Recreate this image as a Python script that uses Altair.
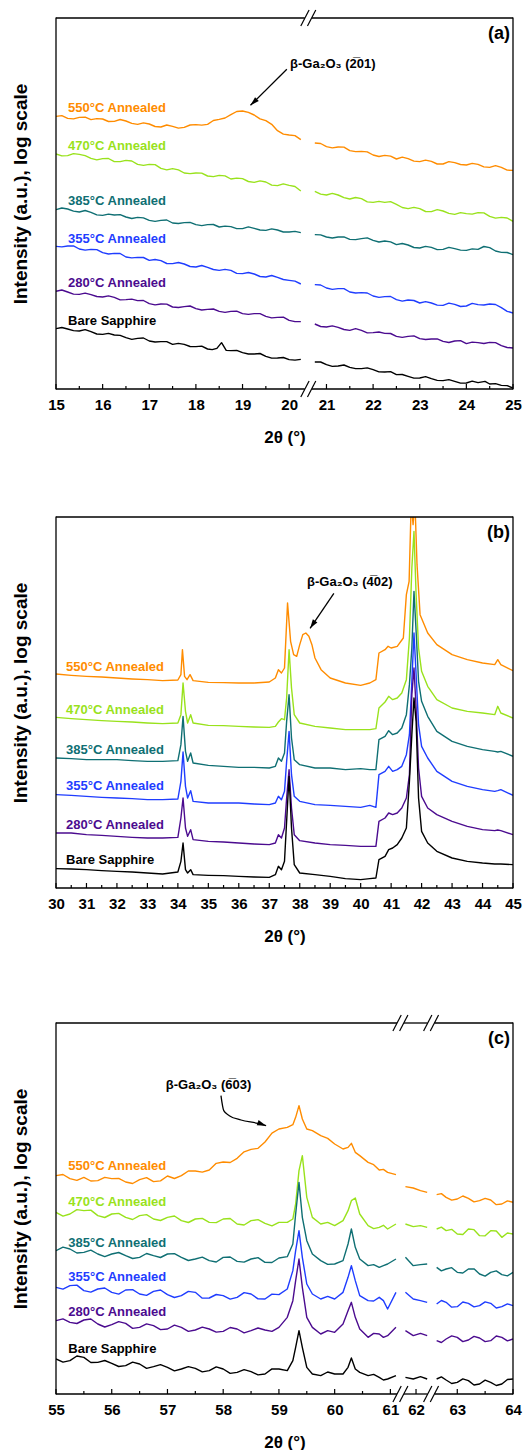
import altair as alt
import pandas as pd

FONT = "Liberation Sans"
W, H = 457, 371
YDOM = [0, 111.3]

SERIES = ["550°C Annealed", "470°C Annealed", "385°C Annealed",
          "355°C Annealed", "280°C Annealed", "Bare Sapphire"]
COLORS = ["#ff8c00", "#99e21c", "#0f6f73", "#1f3dff", "#4b0b8f", "#000000"]

# ---------------- panel (a): 15-25 deg, break near 20.5 ----------------
A_XL = [15.0, 15.25, 15.5, 15.75, 16.0, 16.25, 16.5, 16.75, 17.0, 17.25, 17.5,
        17.75, 18.0, 18.25, 18.5, 18.75, 19.0, 19.25, 19.5, 19.75, 20.0, 20.25]
A_XR = [20.75, 21.0, 21.25, 21.5, 21.75, 22.0, 22.25, 22.5, 22.75, 23.0, 23.25,
        23.5, 23.75, 24.0, 24.25, 24.5, 24.75, 25.0]
A_X = A_XL + A_XR
A_550 = [81.8, 81.2, 81.5, 80.8, 81.0, 80.3, 80.4, 79.4, 79.5, 78.6, 78.8, 78.5, 79.3, 79.4, 80.9, 82.3, 83.4, 82.2, 80.5, 77.5, 76.2, 74.8,
         73.8, 72.7, 72.6, 71.5, 71.3, 70.2, 70.1, 69.0, 69.1, 68.2, 68.3, 67.5, 67.9, 67.2, 67.4, 66.5, 66.5, 65.6]
A_470 = [70.5, 70.0, 70.4, 69.2, 69.1, 68.2, 68.6, 67.4, 67.4, 66.2, 66.1, 64.8, 64.8, 63.9, 64.1, 63.0, 63.1, 62.0, 62.1, 61.0, 61.1, 59.4,
         59.3, 58.2, 58.2, 57.0, 57.1, 56.0, 56.0, 55.4, 54.1, 54.1, 53.2, 53.4, 52.4, 52.6, 52.9, 51.8, 51.5, 50.3]
A_385 = [53.8, 54.0, 53.1, 53.0, 52.1, 52.2, 51.6, 51.5, 50.6, 50.6, 49.8, 49.9, 49.3, 49.3, 48.6, 48.7, 48.1, 48.2, 47.6, 47.7, 47.1, 46.9,
         46.3, 45.6, 45.6, 44.9, 45.1, 44.6, 44.4, 43.3, 43.2, 42.3, 42.5, 41.9, 42.1, 41.6, 41.9, 42.4, 41.0, 40.3]
A_355 = [42.8, 42.9, 42.0, 41.9, 40.9, 40.7, 39.6, 39.5, 38.6, 38.5, 37.6, 37.5, 36.6, 36.5, 35.6, 35.6, 34.6, 34.5, 33.6, 33.5, 32.6, 31.5,
         31.3, 30.3, 30.1, 29.1, 28.9, 27.9, 27.7, 26.8, 26.7, 25.8, 25.8, 25.1, 25.4, 24.9, 25.3, 25.5, 24.4, 22.8]
A_280 = [29.3, 29.1, 28.4, 28.3, 27.6, 27.5, 26.8, 26.5, 25.6, 25.5, 24.6, 24.7, 24.1, 23.9, 23.3, 23.3, 22.6, 22.6, 21.8, 21.5, 20.6, 20.2,
         19.5, 18.6, 18.5, 17.6, 17.6, 16.9, 16.7, 15.8, 15.8, 15.1, 15.0, 14.3, 14.4, 13.6, 13.9, 14.0, 13.0, 12.3]
# in-between readings (noise)
A_XM = [15.125, 15.375, 15.625, 15.875, 16.125, 16.375, 16.625, 16.875, 17.125, 17.375, 17.625,
        17.875, 18.125, 18.375, 18.625, 18.875, 19.125, 19.375, 19.625, 19.875, 20.125,
        20.875, 21.125, 21.375, 21.625, 21.875, 22.125, 22.375, 22.625, 22.875, 23.125, 23.375,
        23.625, 23.875, 24.125, 24.375, 24.625, 24.875]
A_550_M = [82.0, 81.05, 81.55, 81.1, 80.25, 80.85, 79.7, 79.85, 78.75, 79.2, 78.25, 79.2, 79.15, 80.55, 81.3, 83.25, 83.0, 81.05, 79.4, 76.45, 76.0,
           73.65, 72.35, 72.55, 71.2, 71.15, 69.75, 69.85, 69.55, 68.35, 68.65, 67.5, 68.2, 67.35, 67.7, 66.65, 67.0, 65.65]
A_470_M = [69.95, 70.6, 70.0, 68.75, 69.15, 68.2, 68.4, 67.1, 67.3, 65.75, 65.75, 64.6, 64.75, 63.7, 63.95, 63.25, 62.25, 62.45, 61.15, 61.55, 60.75,
           58.45, 58.7, 57.4, 57.45, 56.15, 56.3, 56.2, 54.45, 54.5, 53.25, 53.8, 52.7, 52.9, 52.45, 52.85, 51.25, 51.3]
A_385_M = [54.3, 53.35, 53.55, 52.25, 52.45, 52.3, 51.15, 51.35, 50.3, 50.7, 49.65, 50.0, 49.0, 49.35, 48.85, 48.1, 48.65, 47.7, 48.05, 47.1, 47.3,
           46.25, 45.3, 45.65, 44.8, 45.35, 44.1, 44.15, 43.65, 42.45, 42.8, 41.8, 42.5, 41.65, 42.05, 42.75, 41.4, 40.95]
A_355_M = [42.65, 42.95, 41.65, 41.8, 40.5, 40.65, 39.35, 39.45, 38.85, 37.65, 37.95, 36.75, 37.05, 35.85, 35.9, 34.7, 34.95, 33.75, 34.05, 32.85, 32.35,
           31.2, 29.9, 30.1, 28.8, 28.8, 27.5, 27.75, 26.35, 26.55, 26.2, 25.15, 25.75, 24.75, 25.7, 25.2, 25.35, 23.3]
A_280_M = [29.7, 28.45, 28.75, 27.75, 27.95, 26.75, 26.95, 26.55, 25.25, 25.45, 24.45, 24.9, 23.7, 24.0, 23.0, 23.35, 22.4, 22.6, 21.35, 21.55, 20.2,
           18.75, 18.95, 17.85, 18.1, 16.85, 17.1, 16.65, 15.5, 15.95, 14.85, 15.05, 13.95, 14.5, 14.05, 13.65, 13.9, 12.45]
A_XB = [15.0, 15.25, 15.5, 15.75, 16.0, 16.25, 16.5, 16.75, 17.0, 17.25, 17.5, 17.75, 18.0, 18.25,
        18.45, 18.55, 18.65, 18.75, 19.0, 19.25, 19.5, 19.75, 20.0, 20.25,
        20.75, 21.0, 21.25, 21.5, 21.75, 22.0, 22.25, 22.5, 22.75, 23.0, 23.25, 23.5, 23.75, 24.0,
        24.25, 24.4, 24.5, 24.75, 25.0]
A_BARE = [18.1, 18.0, 17.4, 17.2, 16.4, 16.2, 15.4, 15.2, 14.4, 14.2, 13.4, 13.4, 12.7, 12.0,
          12.2, 13.9, 11.6, 11.5, 10.9, 10.5, 9.8, 9.3, 8.8, 8.9,
          8.1, 7.3, 6.9, 6.5, 6.1, 5.8, 5.1, 4.3, 3.8, 3.3, 3.1, 2.5, 2.3, 1.8,
          1.9, 2.3, 1.5, 1.1, 0.3]
A_XBM = [15.125, 15.375, 15.625, 15.875, 16.125, 16.375, 16.625, 16.875, 17.125, 17.375, 17.625,
         17.875, 18.125, 18.35, 18.875, 19.125, 19.375, 19.625, 19.875, 20.125,
         20.875, 21.125, 21.375, 21.625, 21.875, 22.125, 22.375, 22.625, 22.875, 23.125, 23.375,
         23.625, 23.875, 24.125, 24.625, 24.875]
A_BARE_M = [18.45, 17.5, 17.8, 16.5, 16.7, 16.1, 14.9, 15.3, 14.1, 14.2, 13.7, 12.75, 12.85, 11.8, 11.6, 10.5, 10.65, 9.25, 9.45, 8.65,
            8.1, 6.8, 7.2, 6.1, 6.35, 5.15, 5.2, 4.35, 3.25, 3.7, 2.6, 2.8, 1.75, 2.35, 1.6, 1.0]

# ---------------- panel (b): 30-45 deg ----------------
B_XO = [30.0, 30.5, 31.0, 31.5, 32.0, 32.5, 33.0, 33.5, 34.0, 34.1, 34.15, 34.22, 34.3, 34.4, 34.5,
        35.0, 35.5, 36.0, 36.5, 37.0, 37.2, 37.3, 37.4, 37.5, 37.6, 37.7, 37.8, 37.9,
        38.0, 38.1, 38.2, 38.3, 38.4, 38.5, 38.7, 39.0, 39.5, 40.0, 40.3, 40.5,
        40.6, 40.8, 40.9, 41.0, 41.2, 41.4, 41.5, 41.59, 41.66, 41.72, 41.78, 41.85, 41.95,
        42.2, 42.5, 43.0, 43.5, 44.0, 44.4, 44.5, 44.6, 45.0]
B_550 = [64.2, 63.8, 63.5, 63.3, 63.0, 62.7, 62.5, 62.2, 62.4, 64.0, 71.5, 63.5, 62.5, 64.0, 62.2,
         61.7, 61.6, 61.5, 61.5, 61.8, 63.0, 65.5, 64.5, 66.0, 85.5, 74.0, 70.0, 69.5,
         73.0, 76.0, 76.5, 75.5, 73.0, 69.0, 65.5, 63.0, 61.5, 60.8, 61.5, 62.5,
         70.5, 71.5, 72.5, 72.0, 72.5, 75.0, 88.0, 92.0, 116.0, 109.0, 116.0, 97.0, 82.0,
         76.5, 73.0, 70.0, 68.5, 67.5, 67.0, 68.5, 67.0, 65.2]
B_X = [30.0, 30.5, 31.0, 31.5, 32.0, 32.5, 33.0, 33.5, 34.0, 34.1, 34.17, 34.25, 34.32, 34.42, 34.5,
       35.0, 35.5, 36.0, 36.5, 37.0, 37.2, 37.3, 37.4, 37.5, 37.57, 37.65, 37.73, 37.82,
       38.0, 38.5, 39.0, 39.5, 40.0, 40.3, 40.5, 40.6, 40.8, 40.92, 41.05, 41.2, 41.35, 41.5,
       41.6, 41.68, 41.75, 41.82, 41.9, 42.0, 42.2, 42.5, 43.0, 43.5, 44.0, 44.4, 44.5, 44.6, 45.0]
B_470 = [51.2, 50.8, 50.5, 50.2, 50.0, 49.8, 49.5, 49.3, 49.5, 52.0, 61.5, 53.0, 49.5, 52.0, 49.5,
         48.8, 48.7, 48.5, 48.3, 48.2, 48.5, 49.8, 50.8, 50.5, 57.0, 71.5, 60.0, 52.0,
         49.5, 48.5, 48.0, 47.5, 47.5, 47.5, 47.8, 54.0, 55.8, 57.5, 56.5, 57.0, 58.5, 62.5,
         75.0, 96.0, 107.0, 88.0, 72.0, 65.0, 60.5, 56.5, 54.0, 53.0, 52.5, 52.0, 54.5, 52.5, 51.0]
B_385 = [39.0, 38.8, 38.5, 38.5, 38.5, 38.2, 38.0, 38.0, 38.2, 43.0, 51.5, 41.0, 38.0, 40.5, 37.5,
         36.8, 36.5, 36.2, 36.2, 36.0, 36.5, 39.0, 38.0, 40.5, 50.0, 58.0, 45.0, 38.5,
         37.0, 36.0, 36.0, 35.5, 35.8, 35.5, 35.5, 44.5, 45.5, 47.2, 46.0, 46.5, 48.0, 52.0,
         61.0, 72.0, 89.0, 77.0, 62.0, 56.0, 51.5, 47.0, 44.0, 42.5, 41.5, 41.0, 40.8, 41.0, 39.5]
B_355 = [28.0, 27.8, 27.5, 27.2, 27.0, 26.8, 26.5, 26.5, 26.7, 32.0, 40.8, 30.5, 27.0, 29.2, 26.0,
         25.5, 25.5, 25.5, 25.2, 25.0, 25.5, 27.5, 26.5, 29.0, 38.0, 47.0, 34.0, 27.5,
         26.0, 25.0, 24.8, 24.5, 24.2, 24.8, 24.2, 34.0, 35.0, 36.5, 35.0, 35.5, 36.5, 40.0,
         46.0, 62.0, 76.5, 64.0, 49.0, 42.5, 39.0, 35.0, 32.0, 30.5, 29.5, 29.0, 29.2, 29.5, 27.8]
B_280 = [16.5, 16.5, 16.0, 15.8, 15.5, 15.2, 15.0, 15.0, 15.2, 21.0, 27.0, 18.0, 15.5, 17.5, 14.5,
         14.0, 13.8, 13.5, 13.2, 13.0, 13.5, 16.0, 15.0, 18.0, 27.0, 35.5, 24.0, 16.0,
         14.2, 13.5, 13.0, 12.8, 12.5, 12.5, 12.5, 20.0, 21.0, 22.5, 22.0, 22.5, 24.0, 27.0,
         34.0, 58.0, 66.0, 54.0, 36.0, 27.5, 24.0, 22.0, 20.0, 18.5, 17.5, 17.2, 17.4, 17.2, 16.0]
B_BARE = [5.8, 5.7, 5.5, 5.2, 5.0, 4.8, 4.5, 4.2, 4.8, 8.0, 13.5, 5.5, 4.5, 5.5, 4.0,
          3.8, 3.7, 3.5, 3.3, 3.2, 4.0, 6.5, 5.5, 8.0, 20.0, 33.5, 18.0, 7.0,
          4.5, 4.0, 3.5, 2.8, 2.5, 2.8, 3.0, 8.5, 9.5, 11.5, 12.0, 13.0, 15.0, 18.0,
          32.0, 46.0, 57.0, 50.0, 27.0, 17.0, 13.5, 11.0, 9.0, 8.0, 7.5, 7.2, 7.2, 7.2, 7.0]

# ---------------- panel (c): 55-64 deg, two breaks ----------------
C_X = [55.0, 55.25, 55.5, 55.75, 56.0, 56.25, 56.5, 56.75, 57.0, 57.25, 57.5, 57.75, 58.0,
       58.25, 58.5, 58.75, 59.0, 59.15, 59.25, 59.3, 59.36, 59.42, 59.5, 59.6, 59.75,
       60.0, 60.15, 60.24, 60.3, 60.37, 60.45, 60.6, 60.8, 60.95, 61.1,
       61.81, 61.95, 62.08, 62.2,
       62.63, 62.8, 63.0, 63.2, 63.4, 63.6, 63.8, 64.0]
C_550 = [65.5, 64.6, 65.0, 64.0, 64.6, 63.6, 64.3, 63.7, 65.4, 65.5, 66.9, 67.2, 69.6, 70.7, 73.4, 75.6, 79.5,
         80.0, 80.8, 83.0, 86.5, 82.5, 79.5, 79.0, 77.5,
         75.0, 73.5, 74.0, 75.2, 72.5, 71.5, 69.5, 67.2, 66.5, 65.8,
         62.2, 61.8, 61.0, 60.5,
         59.8, 59.0, 58.5, 58.7, 58.0, 58.2, 57.0, 57.5]
C_470 = [54.5, 54.0, 55.0, 53.5, 54.0, 53.0, 53.5, 52.5, 53.0, 52.0, 52.5, 51.5, 52.5, 51.0, 52.0, 51.2, 51.5,
         51.5, 52.5, 57.0, 67.0, 71.5, 59.0, 53.0, 51.0,
         50.5, 52.0, 55.0, 58.0, 58.8, 54.0, 50.5, 50.0, 49.5, 51.0,
         51.0, 50.2, 50.5, 50.0,
         49.5, 49.0, 48.0, 49.5, 47.5, 49.0, 47.0, 48.0]
C_385 = [43.0, 43.5, 42.5, 42.0, 42.0, 41.5, 41.0, 41.5, 42.0, 41.0, 40.5, 40.0, 41.0, 39.8, 40.5, 39.5, 40.8,
         41.2, 45.0, 54.0, 63.5, 53.0, 46.0, 42.0, 40.0,
         39.0, 40.0, 45.0, 49.5, 44.0, 40.5, 38.5, 38.0, 39.0, 40.5,
         41.0, 38.5, 38.8, 39.0,
         38.0, 37.5, 36.5, 37.5, 36.0, 36.5, 35.8, 36.5]
C_355 = [32.0, 32.5, 31.0, 31.5, 30.5, 31.2, 30.0, 30.8, 29.8, 29.5, 30.5, 28.8, 29.5, 29.0, 30.0, 28.5, 29.8,
         31.5, 37.0, 43.0, 49.0, 41.0, 33.0, 30.0, 28.5,
         28.5, 30.5, 35.0, 38.5, 34.0, 29.5, 28.0, 29.0, 25.5, 30.5,
         30.5, 28.5, 28.0, 27.5,
         27.0, 27.5, 26.2, 27.2, 26.5, 27.2, 26.2, 26.5]
C_280 = [22.0, 21.5, 22.2, 21.0, 20.8, 21.2, 20.0, 20.5, 19.5, 20.0, 19.2, 19.5, 18.8, 19.5, 19.0, 19.2, 20.0,
         23.0, 28.0, 34.0, 40.5, 32.0, 23.0, 20.0, 18.0,
         18.5, 21.0, 25.0, 27.5, 23.0, 19.5, 17.0, 18.0, 17.5, 20.0,
         19.0, 17.5, 18.2, 17.5,
         16.0, 16.5, 17.0, 16.2, 16.8, 16.0, 17.0, 16.5]
C_BARE = [10.5, 10.0, 11.0, 9.5, 9.2, 8.5, 9.0, 8.2, 8.0, 7.5, 7.7, 7.0, 7.5, 6.5, 6.7, 6.0, 7.5,
          7.0, 10.0, 14.0, 19.0, 14.0, 8.0, 6.0, 5.5,
          6.0, 6.0, 8.0, 10.8, 7.5, 6.5, 5.5, 5.0, 4.5, 5.5,
          5.0, 4.5, 5.2, 4.5,
          4.5, 4.2, 3.5, 4.0, 3.0, 3.5, 3.0, 4.5]
C_XM = [55.125, 55.375, 55.625, 55.875, 56.125, 56.375, 56.625, 56.875, 57.125, 57.375, 57.625,
        57.875, 58.125, 58.375, 58.625, 58.875, 59.875, 60.7, 60.875,
        62.715, 62.9, 63.1, 63.3, 63.5, 63.7, 63.9]
C_550_M = [65.85, 64.1, 63.9, 65.0, 64.7, 63.15, 64.9, 63.95, 64.65, 66.9, 66.55, 69.2, 69.45, 72.65, 73.7, 78.25,
           76.7, 68.8, 67.4, 60.1, 58.15, 59.4, 57.65, 58.7, 56.8, 57.95]
C_470_M = [53.35, 55.3, 55.15, 52.95, 54.2, 52.35, 53.8, 52.05, 53.4, 51.45, 52.7, 51.4, 52.65, 50.7, 52.3, 50.45,
           51.5, 49.6, 50.6, 50.05, 49.4, 47.85, 49.3, 47.45, 48.9, 48.3]
C_385_M = [44.05, 42.3, 43.15, 41.2, 42.45, 40.65, 42.15, 40.95, 42.1, 40.05, 41.05, 39.6, 41.1, 39.55, 40.9, 39.45,
           38.9, 38.8, 38.5, 36.95, 37.9, 36.3, 37.55, 35.35, 36.95, 35.45]
C_355_M = [31.45, 32.65, 30.55, 31.8, 29.95, 31.3, 29.6, 31.2, 28.95, 30.8, 28.75, 29.85, 28.45, 30.4, 28.55, 29.95,
           29.3, 27.9, 28.0, 28.05, 26.05, 27.6, 26.15, 27.65, 25.8, 27.05]
C_280_M = [22.55, 21.15, 22.5, 20.1, 21.7, 19.7, 21.05, 19.3, 20.65, 18.8, 20.05, 18.55, 19.95, 18.35, 19.8, 18.8,
           19.0, 18.2, 17.0, 15.45, 17.45, 15.7, 17.3, 15.7, 17.4, 15.95]
C_BARE_M = [9.55, 11.4, 9.45, 10.05, 8.25, 9.55, 7.7, 8.8, 6.95, 8.2, 6.65, 8.15, 6.2, 7.3, 5.75, 7.55,
            6.6, 5.9, 4.2, 5.15, 3.15, 4.55, 2.7, 4.15, 2.55, 4.35]

# axis ticks (2theta values)
A_MAJOR = [15, 16, 17, 18, 19, 20, 21, 22, 23, 24, 25]
A_MINOR = [15.5, 16.5, 17.5, 18.5, 19.5, 21.5, 22.5, 23.5, 24.5]
B_MAJOR = [30, 31, 32, 33, 34, 35, 36, 37, 38, 39, 40, 41, 42, 43, 44, 45]
B_MINOR = [30.5, 31.5, 32.5, 33.5, 34.5, 35.5, 36.5, 37.5, 38.5, 39.5, 40.5, 41.5, 42.5, 43.5, 44.5]
C_MAJOR = [55, 56, 57, 58, 59, 60, 61, 62, 63, 64]
C_MINOR = [55.5, 56.5, 57.5, 58.5, 59.5, 60.5, 63.5]

# series label heights (intensity units)
A_LAB_V = [84.2, 72.8, 56.3, 45.0, 31.8, 20.5]
B_LAB_V = [66.3, 53.5, 41.3, 30.5, 19.0, 8.5]
C_LAB_V = [68.5, 57.7, 45.2, 35.0, 24.5, 13.5]

CSCALE = alt.Scale(domain=SERIES, range=COLORS)


def make_panel(curves, rules, dom, major, minor, lab_x, lab_v, letter,
               ann_text, ann_xy, arrow_pts, arrow_angle, arrow_interp="linear"):
    # rules: ascending list of (2theta threshold, shift, break position on the axis)
    def to_u(x):
        for thr, s, _ in reversed(rules):
            if x > thr:
                return x - s
        return x

    uexpr, segexpr, cond = "datum.x", "0", "datum.value"
    for i, (thr, s, bu) in enumerate(rules):
        uexpr = f"(datum.x > {thr} ? datum.x - {s} : {uexpr})"
        segexpr = f"(datum.x > {thr} ? {i + 1} : {segexpr})"
        cond = f"(datum.value > {bu} ? datum.value + {s} : {cond})"
    label_expr = f"format({cond}, '.0f')"
    breaks_u = [r[2] for r in rules]

    xs = alt.Scale(domain=dom, nice=False, zero=False)
    ys = alt.Scale(domain=YDOM, nice=False, zero=False)
    xaxis = alt.Axis(values=[to_u(m) for m in major], labelExpr=label_expr,
                     domain=False, ticks=False, tickSize=0, grid=False,
                     labelFont=FONT, labelFontSize=15, labelFontWeight="bold",
                     labelColor="black", labelPadding=8, labelFlush=False,
                     labelOverlap=False, title="2θ (°)", titleFont=FONT,
                     titleFontSize=17, titleFontWeight="bold", titleColor="black",
                     titleY=48, titleBaseline="middle")
    yaxis = alt.Axis(labels=False, ticks=False, domain=False, grid=False,
                     title="Intensity (a.u.), log scale", titleFont=FONT,
                     titleFontSize=19, titleFontWeight="bold", titleColor="black",
                     titleX=-36, titleY=H / 2 - 10, titleBaseline="middle")

    rows = []
    for name, parts in zip(SERIES, curves):
        for xs_, vs_ in parts:
            for x, v in zip(xs_, vs_):
                rows.append({"series": name, "x": x, "v": v})
    df = pd.DataFrame(rows)

    lines = alt.Chart(df).transform_calculate(u=uexpr, seg=segexpr).mark_line(
        clip=True, strokeWidth=1.4, strokeJoin="round").encode(
        x=alt.X("u:Q", scale=xs, axis=xaxis),
        y=alt.Y("v:Q", scale=ys, axis=yaxis),
        color=alt.Color("series:N", scale=CSCALE, legend=None),
        detail="seg:N")

    layers = [lines]

    # inside ticks on the bottom axis
    for vals, ln in ((major, 5), (minor, 3)):
        layers.append(alt.Chart(pd.DataFrame({"x": vals})).transform_calculate(u=uexpr)
                      .mark_rule(color="black", strokeWidth=1.2).encode(
            x=alt.X("u:Q", scale=xs, axis=xaxis),
            y=alt.value(H), y2=alt.value(H - ln)))

    # frame: left and right
    one = pd.DataFrame({"k": [0]})
    for xv in (0, W):
        layers.append(alt.Chart(one).mark_rule(color="black", strokeWidth=1.3).encode(
            x=alt.value(xv), y=alt.value(-0.5), y2=alt.value(H + 0.5)))

    # frame: top and bottom, interrupted at the axis breaks
    gap = 3.5 * (dom[1] - dom[0]) / W
    edges = [dom[0]]
    for b in breaks_u:
        edges += [b - gap, b + gap]
    edges.append(dom[1])
    segs = pd.DataFrame({"u1": edges[0::2], "u2": edges[1::2]})
    for yv in (0, H):
        layers.append(alt.Chart(segs).mark_rule(color="black", strokeWidth=1.3).encode(
            x=alt.X("u1:Q", scale=xs, axis=xaxis), x2="u2:Q", y=alt.value(yv)))

    # break marks "//"
    if breaks_u:
        bdf = pd.DataFrame({"u": breaks_u})
        for yv in (0, H):
            for o1, o2 in ((-7.5, 0.8), (-0.8, 7.5)):
                layers.append(alt.Chart(bdf).mark_rule(
                    color="black", strokeWidth=1.2, xOffset=o1, x2Offset=o2).encode(
                    x=alt.X("u:Q", scale=xs, axis=xaxis), x2="u:Q",
                    y=alt.value(yv + 8), y2=alt.value(yv - 8)))

    # series labels
    ldf = pd.DataFrame({"series": SERIES, "x": [lab_x] * 6, "v": lab_v})
    layers.append(alt.Chart(ldf).mark_text(
        align="left", baseline="middle", font=FONT, fontSize=13, fontWeight="bold").encode(
        x=alt.X("x:Q", scale=xs, axis=xaxis), y=alt.Y("v:Q", scale=ys, axis=yaxis),
        text="series:N", color=alt.Color("series:N", scale=CSCALE, legend=None)))

    # panel letter
    layers.append(alt.Chart(one).mark_text(
        align="right", baseline="middle", font=FONT, fontSize=18, fontWeight="bold",
        color="black").encode(x=alt.value(W - 3), y=alt.value(16), text=alt.value(letter)))

    # peak annotation with arrow
    adf = pd.DataFrame({"t": [ann_text], "x": [ann_xy[0]], "v": [ann_xy[1]]})
    layers.append(alt.Chart(adf).mark_text(
        align="left", baseline="middle", font=FONT, fontSize=13, fontWeight="bold",
        color="black").encode(x=alt.X("x:Q", scale=xs, axis=xaxis),
                              y=alt.Y("v:Q", scale=ys, axis=yaxis), text="t:N"))
    pdf = pd.DataFrame({"i": list(range(len(arrow_pts))),
                        "x": [p[0] for p in arrow_pts], "v": [p[1] for p in arrow_pts]})
    layers.append(alt.Chart(pdf).mark_line(color="black", strokeWidth=1.3,
                                           interpolate=arrow_interp).encode(
        x=alt.X("x:Q", scale=xs, axis=xaxis), y=alt.Y("v:Q", scale=ys, axis=yaxis),
        order="i:Q"))
    layers.append(alt.Chart(pdf.tail(1)).mark_point(
        shape="M0,0L0.6,2L-0.6,2Z", angle=arrow_angle, filled=True, size=81,
        color="black", opacity=1, strokeWidth=0).encode(
        x=alt.X("x:Q", scale=xs, axis=xaxis), y=alt.Y("v:Q", scale=ys, axis=yaxis)))

    return alt.layer(*layers).properties(width=W, height=H)


pa = make_panel(
    [[(A_X, A_550), (A_XM, A_550_M)], [(A_X, A_470), (A_XM, A_470_M)],
     [(A_X, A_385), (A_XM, A_385_M)], [(A_X, A_355), (A_XM, A_355_M)],
     [(A_X, A_280), (A_XM, A_280_M)], [(A_XB, A_BARE), (A_XBM, A_BARE_M)]],
    [(20.5, 0.2, 20.41)], [15, 24.8], A_MAJOR, A_MINOR, 15.26, A_LAB_V, "(a)",
    "β-Ga₂O₃ (2̅01)", (20.02, 97.6), [(19.95, 95.9), (19.17, 85.1)], 226)

pb = make_panel(
    [[(B_XO, B_550)], [(B_X, B_470)], [(B_X, B_385)], [(B_X, B_355)], [(B_X, B_280)],
     [(B_X, B_BARE)]],
    [], [30, 45], B_MAJOR, B_MINOR, 30.33, B_LAB_V, "(b)",
    "β-Ga₂O₃ (4̅02)", (38.24, 91.8), [(39.12, 88.4), (38.34, 77.9)], 214)

pc = make_panel(
    [[(C_X, C_550), (C_XM, C_550_M)], [(C_X, C_470), (C_XM, C_470_M)],
     [(C_X, C_385), (C_XM, C_385_M)], [(C_X, C_355), (C_XM, C_355_M)],
     [(C_X, C_280), (C_XM, C_280_M)], [(C_X, C_BARE), (C_XM, C_BARE_M)]],
    [(61.5, 0.54, 61.18), (62.4, 0.8, 61.73)], [55, 63.2], C_MAJOR, C_MINOR, 55.22,
    C_LAB_V, "(c)", "β-Ga₂O₃ (6̅03)", (56.97, 92.7),
    [(57.96, 89.5), (58.01, 85.0), (58.11, 83.5), (58.32, 82.2), (58.62, 81.2), (58.77, 80.5)],
    110, "monotone")

chart = alt.vconcat(pa, pb, pc, spacing=70).properties(
    padding={"left": 11, "top": 9, "right": 2, "bottom": 0},
    background="white").configure_view(stroke=None)

chart.save("out.html", embed_options={"renderer": "svg", "actions": False})
